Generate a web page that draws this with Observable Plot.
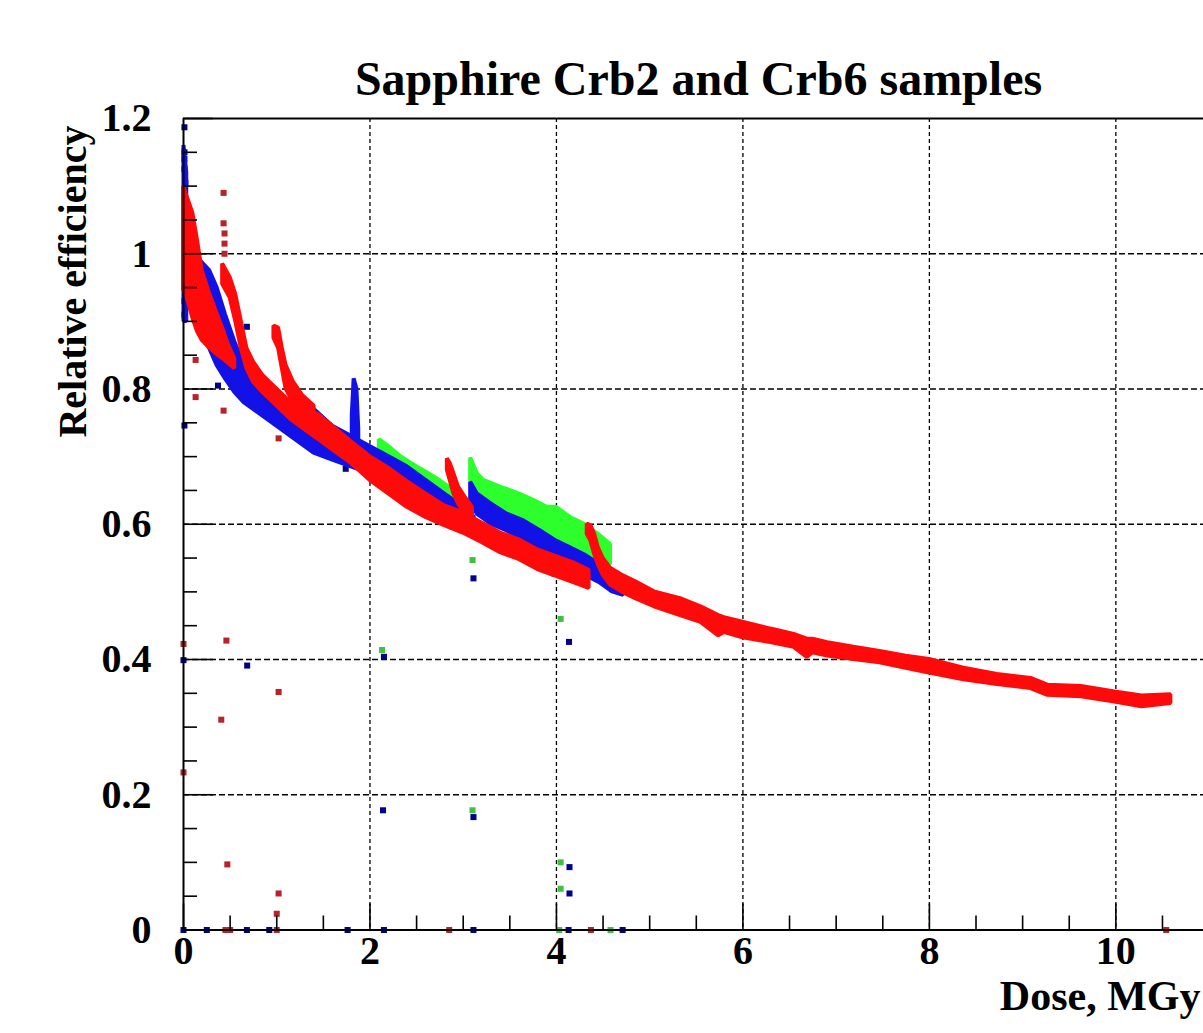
<!DOCTYPE html>
<html>
<head>
<meta charset="utf-8">
<script src="https://cdn.jsdelivr.net/npm/d3@7"></script>
<script src="https://cdn.jsdelivr.net/npm/@observablehq/plot@0.6"></script>
<style>
  html, body { margin: 0; padding: 0; background: #fff; overflow: hidden; }
  svg { display: block; }
</style>
</head>
<body>
<div id="chart"></div>
<script>
// ---------- texts ----------
const chartTitle = "Sapphire Crb2 and Crb6 samples";
const xAxisTitle = "Dose, MGy";
const yAxisTitle = "Relative efficiency";

// ---------- ticks / grid ----------
const xTickLabels = [0, 2, 4, 6, 8, 10];
const xMinorTicks = [0.5, 1, 1.5, 2.5, 3, 3.5, 4.5, 5, 5.5, 6.5, 7, 7.5, 8.5, 9, 9.5, 10.5];
const yTickLabels = [0, 0.2, 0.4, 0.6, 0.8, 1, 1.2];
const yMinorTicks = [0.05, 0.1, 0.15, 0.25, 0.3, 0.35, 0.45, 0.5, 0.55, 0.65, 0.7, 0.75, 0.85, 0.9, 0.95, 1.05, 1.1, 1.15];
const xGrid = [2, 4, 6, 8, 10];
const yGrid = [0.2, 0.4, 0.6, 0.8, 1];

// ---------- data: dense point bands, [dose, low, high] ----------
// Crb2 (blue)
const blueAxisBand = [
  [0.005, 0.90, 1.16], [0.035, 0.90, 1.12]
];
const blueBand1 = [
  [0.08, 0.93, 0.985], [0.18, 0.89, 0.99], [0.28, 0.86, 0.975], [0.36, 0.835, 0.95],
  [0.45, 0.815, 0.91], [0.55, 0.795, 0.87], [0.65, 0.78, 0.835], [0.80, 0.765, 0.81],
  [1.00, 0.745, 0.79], [1.20, 0.725, 0.78], [1.40, 0.705, 0.77], [1.60, 0.695, 0.745],
  [1.80, 0.685, 0.73], [2.00, 0.675, 0.715], [2.20, 0.66, 0.70], [2.40, 0.645, 0.685],
  [2.60, 0.63, 0.665], [2.80, 0.615, 0.645], [2.95, 0.60, 0.63], [3.05, 0.59, 0.62], [3.12, 0.585, 0.61]
];
const blueSpike = [
  [1.81, 0.72, 0.76], [1.83, 0.72, 0.815], [1.86, 0.72, 0.80], [1.88, 0.71, 0.74]
];
const blueBand2 = [
  [3.08, 0.635, 0.662], [3.15, 0.615, 0.645], [3.30, 0.60, 0.63], [3.47, 0.59, 0.615],
  [3.65, 0.578, 0.605], [3.83, 0.563, 0.59], [4.00, 0.55, 0.575], [4.15, 0.54, 0.565],
  [4.30, 0.525, 0.555], [4.47, 0.513, 0.54], [4.60, 0.50, 0.525], [4.72, 0.495, 0.51]
];
// Crb6 (green)
const greenBand1 = [
  [2.10, 0.705, 0.725], [2.20, 0.69, 0.715], [2.33, 0.675, 0.70], [2.50, 0.66, 0.685],
  [2.69, 0.645, 0.67], [2.85, 0.63, 0.655], [2.97, 0.62, 0.64]
];
const greenBand2 = [
  [3.08, 0.665, 0.698], [3.15, 0.64, 0.675], [3.22, 0.635, 0.665], [3.40, 0.625, 0.655],
  [3.60, 0.61, 0.645], [3.76, 0.595, 0.635], [3.90, 0.585, 0.625], [4.00, 0.575, 0.625],
  [4.15, 0.57, 0.61], [4.30, 0.56, 0.60], [4.45, 0.545, 0.585], [4.58, 0.54, 0.57]
];
// red
const redBand1 = [
  [0.00, 0.95, 1.10], [0.05, 0.93, 1.08], [0.10, 0.905, 1.06], [0.15, 0.885, 1.02],
  [0.20, 0.872, 0.975], [0.27, 0.862, 0.945], [0.35, 0.852, 0.915], [0.42, 0.845, 0.89],
  [0.48, 0.838, 0.866], [0.55, 0.83, 0.845]
];
const redBand2 = [
  [0.42, 0.955, 0.985], [0.50, 0.935, 0.965], [0.56, 0.90, 0.94], [0.62, 0.86, 0.90],
  [0.68, 0.83, 0.86], [0.75, 0.81, 0.84], [0.85, 0.795, 0.82], [1.00, 0.775, 0.80],
  [1.15, 0.755, 0.78], [1.30, 0.74, 0.772], [1.45, 0.725, 0.762], [1.60, 0.71, 0.745],
  [1.80, 0.69, 0.722], [2.00, 0.665, 0.70], [2.20, 0.645, 0.683], [2.40, 0.625, 0.663],
  [2.60, 0.61, 0.645], [2.80, 0.598, 0.627], [3.00, 0.587, 0.617], [3.20, 0.573, 0.602],
  [3.40, 0.558, 0.587], [3.60, 0.548, 0.577], [3.80, 0.533, 0.562], [4.00, 0.523, 0.552],
  [4.20, 0.513, 0.542], [4.35, 0.505, 0.532]
];
const redBand3 = [
  [0.97, 0.875, 0.893], [1.02, 0.86, 0.89], [1.06, 0.83, 0.86], [1.10, 0.80, 0.835],
  [1.18, 0.78, 0.81], [1.28, 0.765, 0.79], [1.40, 0.75, 0.775]
];
const redBand4 = [
  [2.83, 0.68, 0.697], [2.86, 0.665, 0.69], [2.90, 0.645, 0.675], [2.95, 0.63, 0.655],
  [3.02, 0.615, 0.64], [3.10, 0.60, 0.625]
];
const redBand5 = [
  [4.33, 0.585, 0.60], [4.37, 0.575, 0.598], [4.41, 0.555, 0.585], [4.45, 0.54, 0.565],
  [4.50, 0.525, 0.55], [4.58, 0.51, 0.535], [4.70, 0.50, 0.525], [4.85, 0.49, 0.515],
  [5.05, 0.478, 0.50], [5.33, 0.465, 0.49], [5.55, 0.455, 0.478], [5.74, 0.435, 0.465],
  [5.80, 0.44, 0.462], [6.00, 0.432, 0.455], [6.30, 0.425, 0.445], [6.55, 0.418, 0.437],
  [6.69, 0.403, 0.43], [6.75, 0.41, 0.43], [6.91, 0.405, 0.425], [7.19, 0.40, 0.418],
  [7.47, 0.395, 0.412], [7.75, 0.387, 0.405], [8.00, 0.38, 0.40], [8.37, 0.37, 0.387],
  [8.73, 0.363, 0.378], [9.09, 0.357, 0.372], [9.27, 0.347, 0.362], [9.63, 0.345, 0.36],
  [9.99, 0.337, 0.352], [10.28, 0.33, 0.346], [10.59, 0.335, 0.348]
];

// ---------- data: isolated points [dose, efficiency] ----------
const blueOutliers = [
  [0.01, 1.187], [0.01, 1.15], [0.01, 1.14], [0.01, 1.125], [0.02, 1.105], [0.01, 1.08],
  [0.01, 1.06], [0.01, 0.99], [0.01, 0.97], [0.01, 0.95], [0.01, 0.93], [0.01, 0.91],
  [0.01, 0.746], [0.37, 0.805], [0.68, 0.892], [1.74, 0.682], [1.50, 0.705], [1.30, 0.72],
  [3.95, 0.53], [3.98, 0.527], [0.00, 0.399], [0.683, 0.391], [2.15, 0.404], [2.14, 0.177],
  [3.11, 0.52], [3.11, 0.167], [4.135, 0.426], [4.14, 0.093], [4.14, 0.054],
  [0.00, 0], [0.25, 0], [0.68, 0], [0.92, 0], [1.76, 0], [2.15, 0], [3.11, 0], [4.13, 0], [4.71, 0]
];
const greenOutliers = [
  [3.10, 0.547], [4.045, 0.46], [2.13, 0.414], [3.10, 0.177], [4.045, 0.10], [4.045, 0.061],
  [4.03, 0], [4.58, 0]
];
const redOutliers = [
  [0.43, 1.09], [0.43, 1.045], [0.44, 1.03], [0.44, 1.015], [0.44, 1.0], [0.13, 0.843],
  [0.13, 0.788], [0.43, 0.768], [1.02, 0.727], [0.46, 0.428], [0.00, 0.423], [1.02, 0.352],
  [0.405, 0.311], [0.00, 0.233], [0.47, 0.097], [1.02, 0.054], [1.00, 0.024],
  [0.45, 0], [0.50, 0], [1.00, 0], [2.85, 0], [4.37, 0], [10.54, 0]
];

// ---------- build tables ----------
const colors = { blue: "#1212e6", green: "#2cff2c", red: "#ff0a0a" };
const dotColors = { blue: "#00008c", green: "#40c040", red: "#b8222a" };

const bands = [];
function addBands(series, runs) {
  runs.forEach((run, i) => run.forEach(([x, lo, hi]) => bands.push({ series, run: series + i, x, lo, hi })));
}
addBands("green", [greenBand1, greenBand2]);
addBands("blue", [blueAxisBand, blueBand1, blueSpike, blueBand2]);
addBands("red", [redBand1, redBand2, redBand3, redBand4, redBand5]);

const dots = [
  ...greenOutliers.map(([x, y]) => ({ series: "green", x, y })),
  ...blueOutliers.map(([x, y]) => ({ series: "blue", x, y })),
  ...redOutliers.map(([x, y]) => ({ series: "red", x, y }))
];

const W = 1203, H = 1033;
const mL = 183, mR = 0, mT = 118, mB = 103.5;
const FW = W - mL - mR, FH = H - mT - mB;
const font = "'Liberation Serif', 'Times New Roman', serif";

const bandMark = (s) => Plot.areaY(bands.filter(d => d.series === s), {
  x: "x", y1: "lo", y2: "hi", z: "run",
  fill: colors[s], stroke: colors[s], strokeWidth: 4, strokeLinejoin: "bevel"
});
const dotMark = (s) => Plot.dot(dots.filter(d => d.series === s), {
  x: "x", y: "y", symbol: "square", r: 3.4, fill: dotColors[s], stroke: "none"
});

const chart = Plot.plot({
  width: W, height: H,
  marginLeft: mL, marginRight: mR, marginTop: mT, marginBottom: mB,
  x: { domain: [0, 10.94], axis: null },
  y: { domain: [0, 1.2], axis: null },
  style: { fontFamily: font, background: "#fff", overflow: "visible" },
  marks: [
    // grid
    Plot.ruleX(xGrid, { x: d => d, stroke: "#000", strokeWidth: 1.3, strokeDasharray: "4,3" }),
    Plot.ruleY(yGrid, { y: d => d, stroke: "#000", strokeWidth: 1.3, strokeDasharray: "6,3" }),
    // data
    dotMark("green"), dotMark("blue"), dotMark("red"),
    bandMark("green"), bandMark("blue"), bandMark("red"),
    // ticks
    Plot.ruleX(xTickLabels, { x: d => d, insetTop: FH - 26, stroke: "#000", strokeWidth: 1.6 }),
    Plot.ruleX(xMinorTicks, { x: d => d, insetTop: FH - 14, stroke: "#000", strokeWidth: 1.6 }),
    Plot.ruleY(yTickLabels, { y: d => d, insetRight: FW - 30, stroke: "#000", strokeWidth: 1.6 }),
    Plot.ruleY(yMinorTicks, { y: d => d, insetRight: FW - 14, stroke: "#000", strokeWidth: 1.6 }),
    // frame lines
    Plot.ruleX([0], { stroke: "#000", strokeWidth: 2 }),
    Plot.ruleY([0, 1.2], { stroke: "#000", strokeWidth: 2 }),
    // tick labels
    Plot.text(xTickLabels, { x: d => d, text: d => String(d), frameAnchor: "bottom", dy: 34,
      fontSize: 40, fontWeight: "bold", fill: "#000" }),
    Plot.text(yTickLabels, { y: d => d, text: d => String(d), frameAnchor: "left", dx: -32,
      textAnchor: "end", fontSize: 40, fontWeight: "bold", fill: "#000" }),
    // titles
    Plot.text([chartTitle], { text: d => d, frameAnchor: "top", dx: 5, dy: -58,
      fontSize: 48, fontWeight: "bold", fill: "#000" }),
    Plot.text([yAxisTitle], { text: d => d, frameAnchor: "top-left", rotate: -90, textAnchor: "end",
      dx: -126, dy: 7, fontSize: 40, fontWeight: "bold", fill: "#000" }),
    Plot.text([xAxisTitle], { text: d => d, frameAnchor: "bottom-right", textAnchor: "end",
      dx: -3, dy: 80, fontSize: 42, fontWeight: "bold", fill: "#000" })
  ]
});
document.getElementById("chart").appendChild(chart);
</script>
</body>
</html>
